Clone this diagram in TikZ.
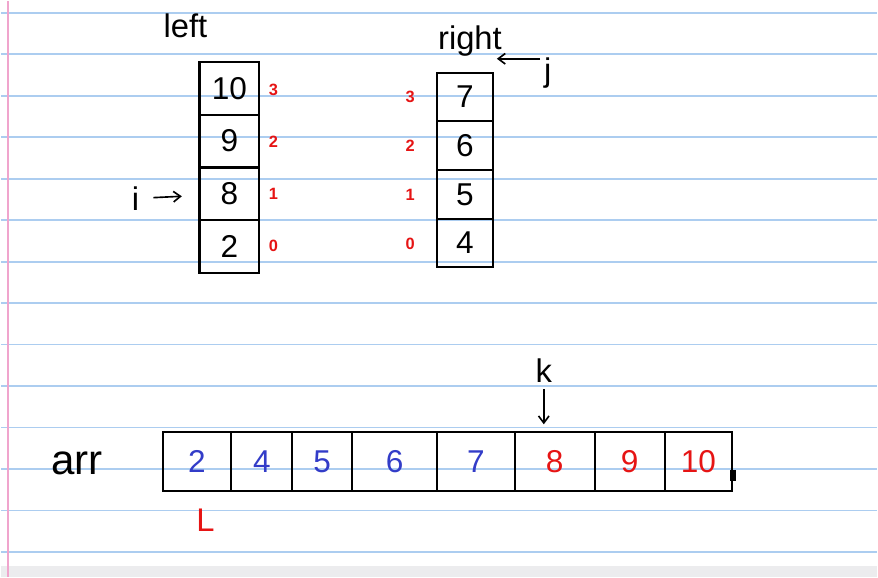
\documentclass[tikz,border=0pt]{standalone}
\usepackage{fontspec}
\setmainfont{Liberation Sans}
\usetikzlibrary{arrows.meta}
\definecolor{numblue}{RGB}{50,60,200}
\definecolor{idxred}{RGB}{230,20,20}
\definecolor{rulecol}{RGB}{172,205,240}
\definecolor{margincol}{RGB}{240,165,205}
\definecolor{stripgray}{RGB}{236,236,238}
\begin{document}
\begin{tikzpicture}[x=0.03cm,y=-0.03cm,
  cell/.style={draw, rectangle, line width=1.8pt, inner sep=0pt, font=\fontsize{27}{29}\selectfont},
  idx/.style={text=idxred, font=\bfseries\fontsize{14}{16}\selectfont},
  lbl/.style={font=\fontsize{28}{30}\selectfont},
  ptr/.style={-{Straight Barb[length=6pt,width=9pt]}, line width=1.4pt}]
% notebook page
\fill[white] (0,0) rectangle (878,577);
\fill[stripgray] (0,566) rectangle (878,577);
\foreach \n in {0,...,13}
  \draw[rulecol, line width=1.5pt] (0,{12+41.55*\n}) -- (878,{12+41.55*\n});
\draw[margincol, line width=1.5pt] (7,0) -- (7,577);

% left half
\node[lbl] (lt) at (185,25) {left};
\foreach \v [count=\r from 0] in {2,8,9,10} {
  \node[cell, minimum width=1.8cm, minimum height=1.59cm] (l\r) at (229,{246.5-53*\r}) {\v};
  \node[idx] at (273,{245-52*\r}) {\r};
}
\node[lbl] (i) at (135,198) {i};
\draw[ptr, shorten <=0.3cm, shorten >=0.5cm] (i) -- (l1);

% right half
\node[lbl] (rt) at (470,40) {right};
\foreach \v [count=\r from 0] in {4,5,6,7} {
  \node[cell, minimum width=1.68cm, minimum height=1.4625cm] (r\r) at (465,{242.6-48.75*\r}) {\v};
  \node[idx] at (410,{243-49*\r}) {\r};
}
\node[lbl] (j) at (548,72) {j};
\coordinate (jtip) at (497,58);
\draw[ptr] (j.west |- jtip) -- (jtip);

% merged array
\node[lbl, font=\fontsize{36}{38}\selectfont] (arr) at (76,463) {arr};
\foreach \a/\b/\v/\c [count=\n] in {162/231/2/numblue, 231/292/4/numblue, 292/352/5/numblue,
    352/437/6/numblue, 437/515/7/numblue, 515/595/8/idxred, 595/665/9/idxred, 665/733/10/idxred}
  \node[cell, text=\c, minimum width={(\b-\a)*0.03cm}, minimum height=1.77cm] (a\n) at ({(\a+\b)/2},461.5) {\v};
\fill (731,470) rectangle (737,481);
\node[lbl] (k) at (544,370) {k};
\draw[ptr, shorten <=0.1cm, shorten >=0.2cm] (k.south) -- (k.south |- a6.north);
\node[lbl, text=idxred] (L) at (205,520) {L};
\end{tikzpicture}
\end{document}
